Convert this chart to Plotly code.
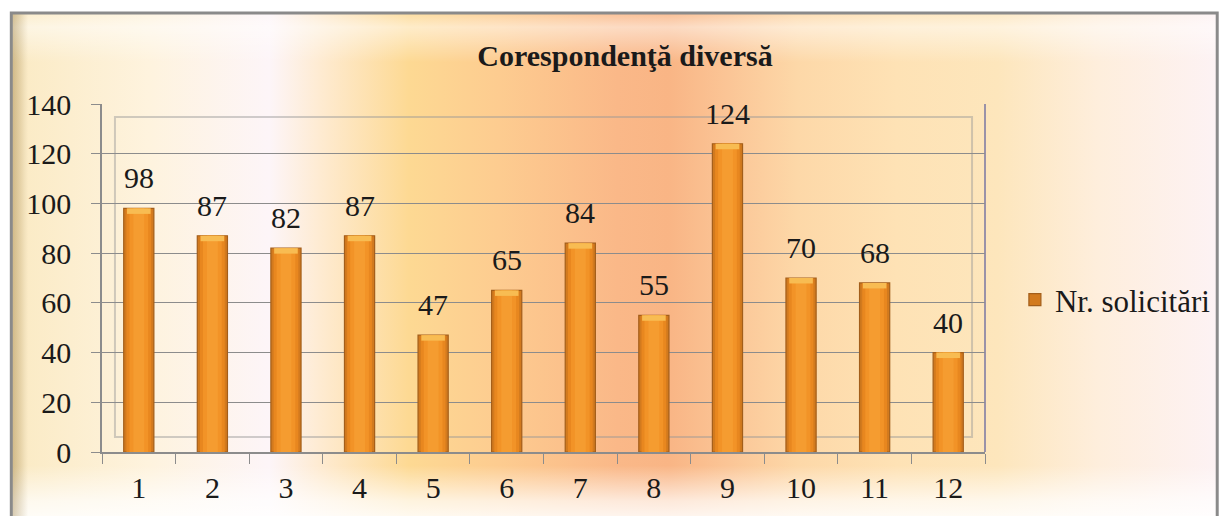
#!/usr/bin/env python3
"""Corespondenta diversa - bar chart in an Excel-like frame."""

import base64

import plotly.graph_objects as go

CATEGORIES = ["1", "2", "3", "4", "5", "6", "7", "8", "9", "10", "11", "12"]
SOLICITARI = [98, 87, 82, 87, 47, 65, 84, 55, 124, 70, 68, 40]
SERIES_NAME = "Nr. solicitări"
TITLE = "Corespondenţă diversă"
Y_TICKS = [0, 20, 40, 60, 80, 100, 120, 140]

# page size, and the browser's default 8px body margin
PAGE_W, PAGE_H = 1228, 516
OFF = 8
W, H = PAGE_W - OFF, PAGE_H - OFF
# plot area in page pixels
PX0, PX1 = 102, 988
PY0, PY1 = 104, 452
PW, PH = PX1 - PX0, PY1 - PY0

FONT = "'Liberation Serif', 'Times New Roman', 'DejaVu Serif', serif"


def px_x(px):
    return (px - PX0) / PW


def px_y(py):
    return (PY1 - py) / PH


def background_uri():
    stops = [
        (0.00, "#EFD9A4"), (0.012, "#FBEBC6"), (0.115, "#FEF3DE"), (0.2145, "#FDF5F8"),
        (0.256, "#FEEBD2"), (0.330, "#FDD993"), (0.404, "#FDCC90"), (0.503, "#FAB888"),
        (0.545, "#F9B585"), (0.594, "#FBC596"), (0.652, "#FDD8A8"), (0.734, "#FEE2B5"),
        (0.817, "#FDE6BC"), (0.90, "#FEEEDC"), (1.00, "#FDF2F4"),
    ]
    stop_xml = "".join(f'<stop offset="{o}" stop-color="{c}"/>' for o, c in stops)
    svg = (
        f'<svg xmlns="http://www.w3.org/2000/svg" width="{W}" height="{H}" '
        f'viewBox="{OFF} {OFF} {W} {H}" preserveAspectRatio="none">'
        '<defs>'
        f'<linearGradient id="h" x1="0" y1="0" x2="1" y2="0">{stop_xml}</linearGradient>'
        '<linearGradient id="v" x1="0" y1="0" x2="0" y2="1">'
        '<stop offset="0" stop-color="#ffffff" stop-opacity="0.1"/>'
        '<stop offset="0.03" stop-color="#ffffff" stop-opacity="0.5"/>'
        '<stop offset="0.10" stop-color="#ffffff" stop-opacity="0.0"/>'
        '<stop offset="0.90" stop-color="#ffffff" stop-opacity="0.0"/>'
        '<stop offset="0.97" stop-color="#ffffff" stop-opacity="0.7"/>'
        '<stop offset="1" stop-color="#ffffff" stop-opacity="0.85"/>'
        '</linearGradient>'
        '<linearGradient id="l" x1="0" y1="0" x2="1" y2="0">'
        '<stop offset="0" stop-color="#a89060" stop-opacity="0.45"/>'
        '<stop offset="1" stop-color="#a89060" stop-opacity="0"/>'
        '</linearGradient>'
        '</defs>'
        f'<rect x="0" y="0" width="{PAGE_W}" height="{PAGE_H}" fill="#ffffff"/>'
        '<rect x="10" y="12" width="1212" height="520" fill="url(#h)"/>'
        '<rect x="10" y="12" width="1212" height="504" fill="url(#v)"/>'
        '<rect x="12" y="14" width="16" height="510" fill="url(#l)"/>'
        '<rect x="11" y="13" width="1210" height="520" fill="none" stroke="#8a8a8a" stroke-width="3"/>'
        '</svg>'
    )
    return "data:image/svg+xml;base64," + base64.b64encode(svg.encode("utf-8")).decode("ascii")


BAR_W = 0.41

fig = go.Figure()
# bar body (darker edges)
fig.add_trace(
    go.Bar(
        x=CATEGORIES,
        y=SOLICITARI,
        name=SERIES_NAME,
        width=BAR_W,
        marker=dict(color="#D27A1E", line=dict(color="#A35E1A", width=1.2)),
        hoverinfo="x+y",
    )
)
# brighter inner layers, a cheap horizontal gradient
for frac, colour in [(0.82, "#E8871F"), (0.62, "#F29327"), (0.36, "#F59C30")]:
    fig.add_trace(
        go.Bar(
            x=CATEGORIES,
            y=SOLICITARI,
            width=BAR_W * frac,
            marker=dict(color=colour, line=dict(width=0)),
            showlegend=False,
            hoverinfo="skip",
        )
    )
# lighter bevelled cap
cap = 2.2
fig.add_trace(
    go.Bar(
        x=CATEGORIES,
        y=[cap] * len(SOLICITARI),
        base=[v - cap for v in SOLICITARI],
        width=BAR_W * 0.78,
        marker=dict(color="#F8BC52", line=dict(width=0)),
        showlegend=False,
        hoverinfo="skip",
    )
)

# value labels: category axes take the category index for annotations
annotations = [
    dict(
        x=i, y=v, xref="x", yref="y", text=str(v), showarrow=False,
        yanchor="bottom", yshift=12,
        font=dict(family=FONT, size=30, color="#1a1a1a"),
    )
    for i, v in enumerate(SOLICITARI)
]

fig.update_layout(
    width=W,
    height=H,
    margin=dict(l=PX0 - OFF, r=PAGE_W - PX1, t=PY0 - OFF, b=PAGE_H - PY1, pad=0),
    paper_bgcolor="white",
    plot_bgcolor="rgba(0,0,0,0)",
    barmode="overlay",
    font=dict(family=FONT, color="#1a1a1a"),
    title=dict(
        text=f"<b>{TITLE}</b>",
        x=(625 - OFF) / W,
        xanchor="center",
        y=1 - (55 - OFF) / H,
        yanchor="middle",
        font=dict(family=FONT, size=30, color="#1a1a1a"),
    ),
    legend=dict(
        x=px_x(1018),
        y=px_y(300),
        xanchor="left",
        yanchor="middle",
        bgcolor="rgba(0,0,0,0)",
        font=dict(family=FONT, size=31, color="#1a1a1a"),
        itemwidth=30,
    ),
    annotations=annotations,
    images=[
        dict(
            source=background_uri(),
            xref="paper",
            yref="paper",
            x=px_x(OFF),
            y=px_y(OFF),
            sizex=W / PW,
            sizey=H / PH,
            xanchor="left",
            yanchor="top",
            sizing="stretch",
            layer="below",
        )
    ],
    shapes=[
        # back wall of the 3D plot area
        dict(type="rect", xref="paper", yref="paper",
             x0=px_x(115), x1=px_x(975), y0=px_y(437), y1=px_y(117),
             line=dict(color="rgba(150,150,150,0.45)", width=2), layer="below"),
        # right edge of plot area
        dict(type="line", xref="paper", yref="paper",
             x0=1, x1=1, y0=0, y1=1,
             line=dict(color="#9a92a8", width=2), layer="below"),
    ],
)

fig.update_xaxes(
    type="category",
    range=[-0.5, len(CATEGORIES) - 0.5],
    showline=True,
    linecolor="#8c8c8c",
    linewidth=1.5,
    ticks="outside",
    tickson="boundaries",
    ticklen=10,
    tickcolor="#8c8c8c",
    tickfont=dict(family=FONT, size=30, color="#1a1a1a"),
    ticklabelstandoff=8,
    showgrid=False,
)
fig.update_yaxes(
    range=[0, 140],
    tickvals=Y_TICKS,
    showline=True,
    linecolor="#8c8c8c",
    linewidth=1.5,
    ticks="outside",
    ticklen=9,
    tickcolor="#8c8c8c",
    tickfont=dict(family=FONT, size=30, color="#1a1a1a"),
    ticklabelstandoff=14,
    showgrid=True,
    gridcolor="#8c8c8c",
    gridwidth=1,
    zeroline=False,
)

fig.write_html("out.html")
